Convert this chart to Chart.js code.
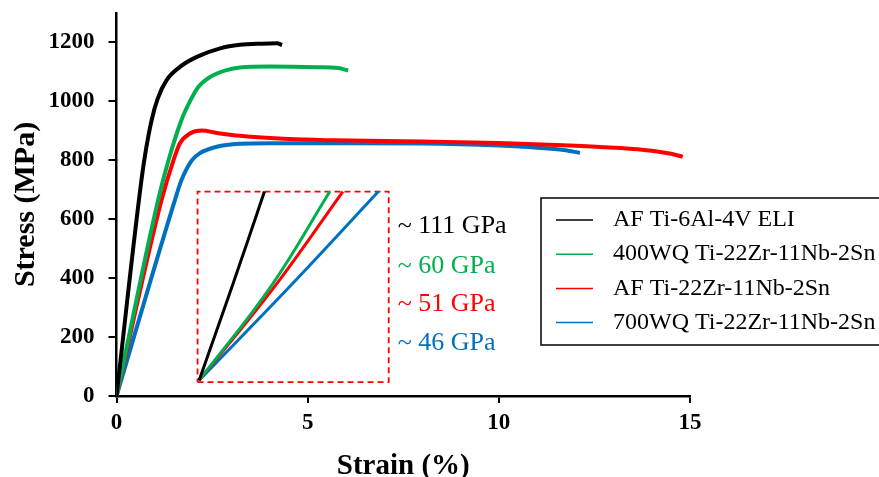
<!DOCTYPE html>
<html>
<head>
<meta charset="utf-8">
<script src="https://cdn.jsdelivr.net/npm/chart.js@4"></script>
<style>
  html, body { margin: 0; padding: 0; background: #fff; }
  #wrap { width: 879px; height: 477px; position: relative; }
</style>
</head>
<body>
<div id="wrap"><canvas id="stressChart"></canvas></div>
<script>
// stress-strain curves (strain %, stress MPa)
const blackStrain = [0, 0.62, 0.75, 0.92, 1.08, 1.31, 1.66, 2.10, 2.71, 3.23, 3.8, 4.2, 4.33];
const blackStress = [0, 700, 820, 937, 1010, 1072, 1117, 1151, 1180, 1192, 1196, 1197, 1191];

const greenStrain = [0, 1.09, 1.36, 1.70, 1.92, 2.14, 2.45, 2.88, 3.23, 4.0, 5.24, 5.8, 6.06];
const greenStress = [0, 666, 800, 937, 1000, 1049, 1083, 1106, 1115, 1118, 1116, 1113, 1105];

const redStrain = [0, 1.18, 1.49, 1.66, 1.92, 2.23, 2.62, 3.23, 4.5, 5.67, 8.0, 10.0, 11.5, 12.65, 13.8, 14.5, 14.81];
const redStress = [0, 666, 800, 858, 891, 901, 893, 883, 872, 868, 864, 859, 852, 845, 835, 822, 812];

const blueStrain = [0, 1.53, 1.70, 1.97, 2.18, 2.62, 3.23, 4.0, 6.0, 8.0, 10.0, 11.0, 11.7, 12.12];
const blueStress = [0, 666, 733, 800, 824, 846, 856, 858, 858, 857, 850, 843, 835, 825];

// inset (zoomed elastic region), drawn in the same axes
const insetBlackStrain = [2.16, 3.03, 3.87];
const insetBlackStress = [53, 374, 694];
const insetGreenStrain = [2.16, 4.05, 5.58];
const insetGreenStress = [53, 374, 694];
const insetRedStrain = [2.16, 4.15, 5.92];
const insetRedStress = [53, 374, 694];
const insetBlueStrain = [2.16, 4.55, 6.85];
const insetBlueStress = [53, 374, 694];

const insetBoxStrain = [2.12, 7.12, 7.12, 2.12, 2.12];
const insetBoxStress = [47, 47, 694, 694, 47];

const seriesLabels = ['AF Ti-6Al-4V ELI', '400WQ Ti-22Zr-11Nb-2Sn', 'AF Ti-22Zr-11Nb-2Sn', '700WQ Ti-22Zr-11Nb-2Sn'];
const seriesColors = ['#000000', '#00B050', '#FF0000', '#0070C0'];
const modulusLabels = ['~ 111 GPa', '~ 60 GPa', '~ 51 GPa', '~ 46 GPa'];
const modulusStress = [575, 440, 313, 178];

const xTicks = [0, 5, 10, 15];
const yTicks = [0, 200, 400, 600, 800, 1000, 1200];

const FONT = "'Liberation Serif', 'Times New Roman', serif";

function pts(xs, ys) {
  return xs.map((x, i) => ({ x: x, y: ys[i] }));
}

const mainSets = [
  pts(blackStrain, blackStress),
  pts(greenStrain, greenStress),
  pts(redStrain, redStress),
  pts(blueStrain, blueStress),
];
const insetSets = [
  pts(insetBlackStrain, insetBlackStress),
  pts(insetGreenStrain, insetGreenStress),
  pts(insetRedStrain, insetRedStress),
  pts(insetBlueStrain, insetBlueStress),
];

const datasets = [];
mainSets.forEach((d, i) => {
  datasets.push({
    label: seriesLabels[i],
    data: d,
    borderColor: seriesColors[i],
    borderWidth: 4,
    pointRadius: 0,
    fill: false,
    cubicInterpolationMode: 'monotone',
  });
});
insetSets.forEach((d, i) => {
  datasets.push({
    label: '',
    data: d,
    borderColor: seriesColors[i],
    borderWidth: 3,
    pointRadius: 0,
    fill: false,
    tension: 0.4,
  });
});
datasets.push({
  label: '',
  data: pts(insetBoxStrain, insetBoxStress),
  borderColor: '#FF0000',
  borderWidth: 1.8,
  borderDash: [6, 4],
  pointRadius: 0,
  fill: false,
  tension: 0,
});

// legend box + modulus labels
const overlay = {
  id: 'overlay',
  afterDraw(chart) {
    const ctx = chart.ctx;
    const xs = chart.scales.x;
    const ys = chart.scales.y;
    ctx.save();

    // modulus labels next to the inset box
    ctx.font = '26px ' + FONT;
    ctx.textBaseline = 'middle';
    ctx.textAlign = 'left';
    const lx = xs.getPixelForValue(insetBoxStrain[1]) + 9;
    modulusLabels.forEach((t, i) => {
      ctx.fillStyle = seriesColors[i];
      ctx.fillText(t, lx, ys.getPixelForValue(modulusStress[i]));
    });

    // legend
    const bx = 541, by = 198, bw = 350, bh = 147;
    ctx.fillStyle = '#fff';
    ctx.fillRect(bx, by, bw, bh);
    ctx.strokeStyle = '#000';
    ctx.lineWidth = 1.5;
    ctx.strokeRect(bx, by, bw, bh);
    ctx.font = '24px ' + FONT;
    seriesLabels.forEach((t, i) => {
      const y = by + 22 + i * 34.2;
      ctx.strokeStyle = seriesColors[i];
      ctx.lineWidth = 1.5;
      ctx.beginPath();
      ctx.moveTo(bx + 15, y);
      ctx.lineTo(bx + 52, y);
      ctx.stroke();
      ctx.fillStyle = '#000';
      ctx.fillText(t, bx + 72, y);
    });
    ctx.restore();
  }
};

const tickFont = { family: FONT, size: 23, weight: 'bold' };

new Chart(document.getElementById('stressChart'), {
  type: 'line',
  data: { datasets: datasets },
  options: {
    responsive: true,
    maintainAspectRatio: false,
    animation: false,
    layout: { padding: { left: 0, right: 189, top: 13, bottom: 0 } },
    plugins: {
      legend: { display: false },
      tooltip: { enabled: false },
    },
    scales: {
      x: {
        type: 'linear',
        min: 0,
        max: 15,
        afterBuildTicks: s => { s.ticks = xTicks.map(v => ({ value: v })); },
        afterFit: s => { s.height = 81; s.paddingLeft = 0; s.paddingRight = 0; },
        ticks: { font: tickFont, color: '#000', padding: 6 },
        grid: { display: true, drawOnChartArea: false, drawTicks: true, tickLength: 7, color: '#000', lineWidth: 2 },
        border: { display: true, color: '#000', width: 2.5 },
        title: { display: true, text: 'Strain (%)', font: { family: FONT, size: 29, weight: 'bold', lineHeight: 0.6 }, color: '#000', padding: { top: 0, bottom: 1.6 } },
      },
      y: {
        type: 'linear',
        min: 0,
        max: 1300,
        afterBuildTicks: s => { s.ticks = yTicks.map(v => ({ value: v })); },
        afterFit: s => { s.width = 116.5; s.paddingTop = 0; s.paddingBottom = 0; },
        ticks: { font: tickFont, color: '#000', padding: 14, callback: v => String(v) },
        grid: { display: true, drawOnChartArea: false, drawTicks: true, tickLength: 8, color: '#000', lineWidth: 2 },
        border: { display: true, color: '#000', width: 2.5 },
        title: { display: true, text: 'Stress (MPa)', font: { family: FONT, size: 30, weight: 'bold' }, color: '#000', padding: { top: 8, bottom: 0 } },
      },
    },
  },
  plugins: [overlay],
});
</script>
</body>
</html>
